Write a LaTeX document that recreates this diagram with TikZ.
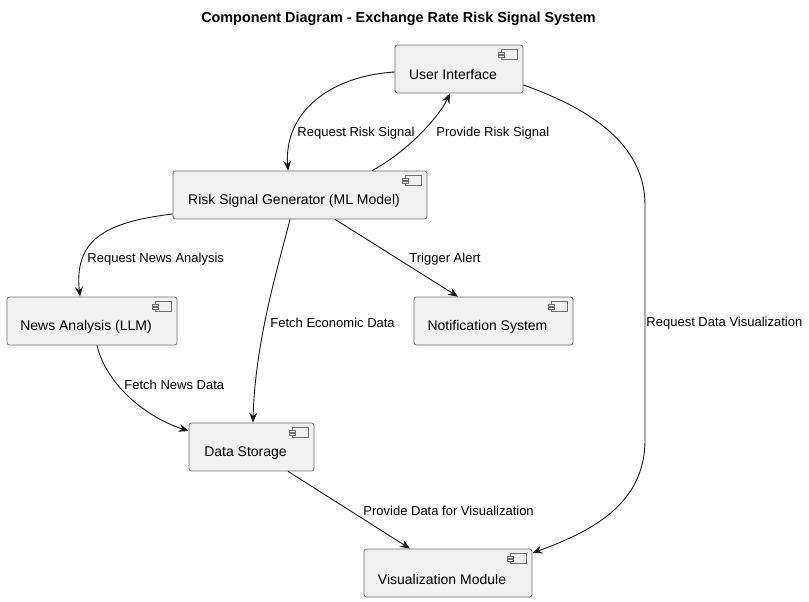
\documentclass[tikz,border=0pt]{standalone}
\usepackage{fontspec}
\setmainfont{Liberation Sans}
\usetikzlibrary{arrows.meta}
\usetikzlibrary{calc}
\definecolor{boxfill}{HTML}{F1F1F1}
\definecolor{boxline}{HTML}{6E6E6E}
\definecolor{edgeline}{HTML}{181818}
\tikzset{
  comp/.style={draw=boxline, line width=0.7pt, fill=boxfill, rounded corners=2.5pt,
    minimum height=48pt, inner sep=0pt},
  comptext/.style={font=\fontsize{14}{16}\selectfont, inner sep=0pt, xshift=-6pt, yshift=-6pt},
  lbl/.style={inner sep=0pt, font=\fontsize{13}{15}\selectfont, text=black},
  flow/.style={draw=edgeline, line width=0.9pt, -{Stealth[length=10pt,width=8pt,inset=3.5pt]}}
}

\begin{document}
\begin{tikzpicture}[x=1pt, y=-1pt]
\useasboundingbox[fill=white] (0,0) rectangle (809,602);

\node[font=\fontsize{14.4}{16}\selectfont\bfseries] (title) at (398.5,19) {Component Diagram - Exchange Rate Risk Signal System};

\node[comp, minimum width=128pt, label={[comptext]center:User Interface}] (ui) at (459,69) {};
\node[comp, minimum width=254pt, label={[comptext]center:Risk Signal Generator (ML Model)}] (rsg) at (300,195) {};
\node[comp, minimum width=170pt, label={[comptext]center:News Analysis (LLM)}] (news) at (92,321) {};
\node[comp, minimum width=159pt, label={[comptext]center:Notification System}] (notif) at (493.5,321) {};
\node[comp, minimum width=125pt, label={[comptext]center:Data Storage}] (ds) at (251.5,447) {};
\node[comp, minimum width=168pt, label={[comptext]center:Visualization Module}] (viz) at (448,573) {};

% component icons
\foreach \c in {ui, rsg, news, notif, ds, viz} {
  \draw[boxline, line width=0.6pt, fill=boxfill] ($(\c.north east)+(-22,5)$) rectangle ($(\c.north east)+(-6,15)$);
  \draw[boxline, line width=0.6pt, fill=boxfill] ($(\c.north east)+(-25,7.5)$) rectangle ($(\c.north east)+(-19,9.5)$);
  \draw[boxline, line width=0.6pt, fill=boxfill] ($(\c.north east)+(-25,10.5)$) rectangle ($(\c.north east)+(-19,12.5)$);
}

\draw[flow] ([yshift=-3pt]ui.west) .. controls (330,76) and (284,112) .. ([xshift=-12pt]rsg.north)
  node[lbl, anchor=east] at (415,133) {Request Risk Signal};
\draw[flow] ([xshift=72pt]rsg.north) .. controls (410,150) and (440,115) .. ([xshift=-9pt]ui.south)
  node[lbl, anchor=west] at (436,133) {Provide Risk Signal};
\draw[flow] ([yshift=-16pt]ui.east) .. controls (600,112) and (645,150) .. (645,205) -- (645,440)
  .. controls (645,505) and (590,532) .. ([yshift=20pt]viz.east)
  node[lbl, anchor=west] at (646,323) {Request Data Visualization};

\draw[flow] ([yshift=-19pt]rsg.west) .. controls (105,222) and (74,240) .. ([xshift=-12pt]news.north)
  node[lbl, anchor=west] at (87,259) {Request News Analysis};
\draw[flow] ([xshift=-10pt]rsg.south) .. controls (280,260) and (255,340) .. ([xshift=1.5pt]ds.north)
  node[lbl, anchor=west] at (270,323) {Fetch Economic Data};
\draw[flow] ([xshift=35pt]rsg.south) -- ([xshift=-35.5pt]notif.north)
  node[lbl, anchor=west] at (409,259) {Trigger Alert};

\draw[flow] ([xshift=5pt]news.south) .. controls (105,380) and (140,415) .. ([yshift=16pt]ds.west)
  node[lbl, anchor=west] at (124,385) {Fetch News Data};
\draw[flow] ([xshift=36.5pt]ds.south) -- ([xshift=-38pt]viz.north)
  node[lbl, anchor=west] at (363,511) {Provide Data for Visualization};

\end{tikzpicture}
\end{document}
